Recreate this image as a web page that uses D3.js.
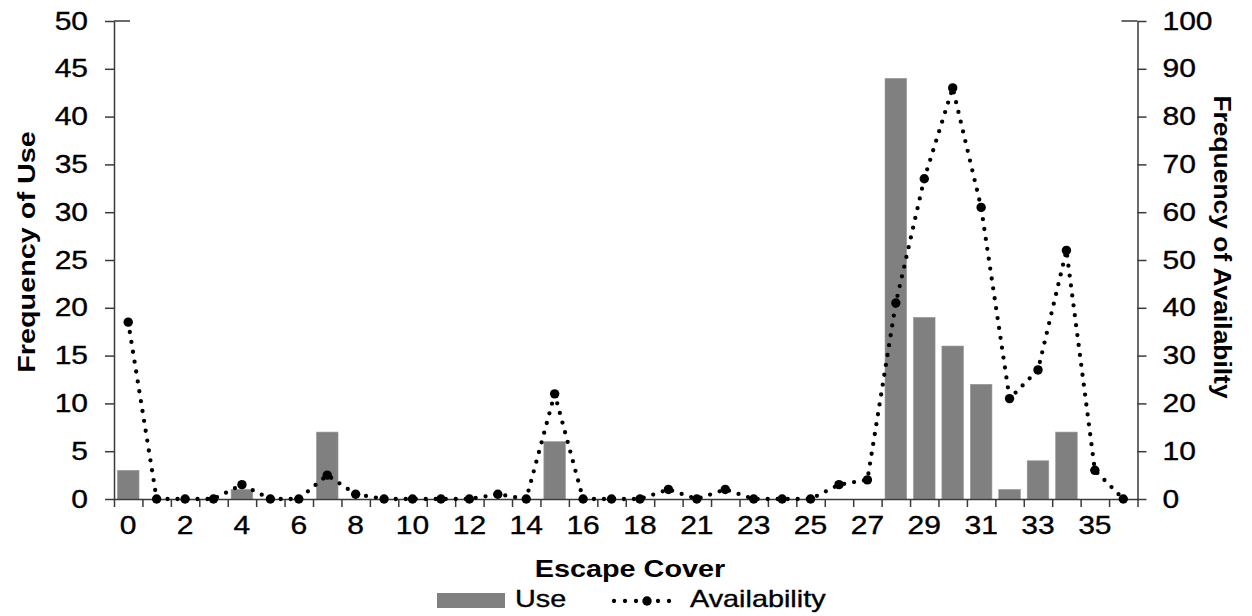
<!DOCTYPE html>
<html>
<head>
<meta charset="utf-8">
<script src="https://cdn.jsdelivr.net/npm/d3@7"></script>
<style>
  html, body { margin: 0; padding: 0; background: #fff; }
  svg { display: block; font-family: "Liberation Sans", Arial, sans-serif; }
</style>
</head>
<body>
<svg id="chart" width="1252" height="616"></svg>
<script>
// ---------- data ----------
const categories = ["0","1","2","3","4","5","6","7","8","9","10","11","12","13","14","15","16","17","18",
  "20","21","22","23","24","25","26","27","28","29","30","31","32","33","34","35","36"];
const useValues = [3,0,0,0,1,0,0,7,0,0,0,0,0,0,0,6,0,0,0,
  0,0,0,0,0,0,0,0,44,19,16,12,1,4,7,0,0];
const availabilityValues = [37,0,0,0,3,0,0,5,1,0,0,0,0,1,0,22,0,0,0,
  2,0,2,0,0,0,3,4,41,67,86,61,21,27,52,6,0];
const leftTicks = [0,5,10,15,20,25,30,35,40,45,50];
const rightTicks = [0,10,20,30,40,50,60,70,80,90,100];
const xTitle = "Escape Cover";
const yLeftTitle = "Frequency of Use";
const yRightTitle = "Frequency of Availabilty";
const legendLabels = ["Use", "Availability"];

// ---------- layout ----------
const W = 1252, H = 616;
const L = 114, R = 1137.5, T = 21, B = 499;
const STRETCH = 1.2;
const axisColor = "#3a3a3a";
const barColor = "#808080";

const svg = d3.select("#chart");

function stretch(sel, k) {
  sel.each(function () {
    const w = this.getComputedTextLength();
    this.setAttribute("textLength", w * k);
    this.setAttribute("lengthAdjust", "spacingAndGlyphs");
  });
}
function heavy(sel) {
  sel.attr("stroke", "#000").attr("stroke-width", 0.35);
}

const x = d3.scaleBand().domain(categories).range([L, R]).padding(0);
const xEdge = d3.scaleLinear().domain([0, categories.length]).range([L, R]);
const yL = d3.scaleLinear().domain([0, 50]).range([B, T]);
const yR = d3.scaleLinear().domain([0, 100]).range([B, T]);

// ---------- bars ----------
const bw = x.bandwidth() * 0.76;
svg.append("g").selectAll("rect").data(categories).join("rect")
  .attr("x", (d) => x(d) + (x.bandwidth() - bw) / 2)
  .attr("y", (d, i) => yL(useValues[i]))
  .attr("width", bw)
  .attr("height", (d, i) => yL(0) - yL(useValues[i]))
  .attr("fill", barColor)
  .attr("stroke", "#999")
  .attr("stroke-width", 0.6);

// ---------- axes ----------
const gxEdge = svg.append("g").attr("transform", `translate(0,${B})`)
  .call(d3.axisBottom(xEdge).tickValues(d3.range(0, categories.length + 1)).tickSize(8).tickSizeOuter(0).tickFormat(""));
gxEdge.selectAll("path,line").attr("stroke", axisColor).attr("stroke-width", 1.5);

const gxLab = svg.append("g").attr("transform", `translate(0,${B})`)
  .call(d3.axisBottom(x).tickSize(0).tickPadding(0).tickFormat((d, i) => (i % 2 === 0 ? d : "")));
gxLab.select(".domain").remove();
gxLab.selectAll("text").attr("font-size", 25).attr("fill", "#000")
  .attr("font-family", "Liberation Sans, Arial, sans-serif")
  .attr("y", 35).attr("dy", 0).call(heavy).call(stretch, STRETCH);

const gyL = svg.append("g").attr("transform", `translate(${L},0)`)
  .call(d3.axisLeft(yL).tickValues(leftTicks).tickSize(9).tickSizeOuter(0).tickPadding(17));
gyL.selectAll("path,line").attr("stroke", axisColor).attr("stroke-width", 1.5);
gyL.selectAll("text").attr("font-size", 25).attr("fill", "#000")
  .attr("font-family", "Liberation Sans, Arial, sans-serif").call(heavy).call(stretch, STRETCH);

const gyR = svg.append("g").attr("transform", `translate(${R},0)`)
  .call(d3.axisRight(yR).tickValues(rightTicks).tickSize(9).tickSizeOuter(0).tickPadding(16));
gyR.selectAll("path,line").attr("stroke", axisColor).attr("stroke-width", 1.5);
gyR.selectAll("text").attr("font-size", 25).attr("fill", "#000")
  .attr("font-family", "Liberation Sans, Arial, sans-serif").call(heavy).call(stretch, STRETCH);

// small inner stubs at the top of both value axes
svg.append("line").attr("x1", L).attr("x2", L + 16).attr("y1", yL(50)).attr("y2", yL(50))
  .attr("stroke", axisColor).attr("stroke-width", 1.5);
svg.append("line").attr("x1", R - 16).attr("x2", R).attr("y1", yR(100)).attr("y2", yR(100))
  .attr("stroke", axisColor).attr("stroke-width", 1.5);

// ---------- availability line ----------
const line = d3.line()
  .x((d, i) => x(categories[i]) + x.bandwidth() / 2)
  .y((d) => yR(d));
svg.append("path").datum(availabilityValues)
  .attr("d", line).attr("fill", "none").attr("stroke", "#000")
  .attr("stroke-width", 4.3).attr("stroke-linecap", "round")
  .attr("stroke-dasharray", "0 10");
svg.append("g").selectAll("circle").data(availabilityValues).join("circle")
  .attr("cx", (d, i) => x(categories[i]) + x.bandwidth() / 2)
  .attr("cy", (d) => yR(d))
  .attr("r", 4.7).attr("fill", "#000");

// ---------- titles ----------
svg.append("text").text(xTitle)
  .attr("x", 630).attr("y", 577).attr("text-anchor", "middle")
  .attr("font-size", 24).attr("font-weight", "bold").call(stretch, STRETCH);

svg.append("text").text(yLeftTitle)
  .attr("transform", "translate(35,252) rotate(-90)").attr("text-anchor", "middle")
  .attr("font-size", 24).attr("font-weight", "bold").call(stretch, STRETCH);

svg.append("text").text(yRightTitle)
  .attr("transform", "translate(1214,247) rotate(90)").attr("text-anchor", "middle")
  .attr("font-size", 24).attr("font-weight", "bold").call(stretch, 1.1);

// ---------- legend ----------
const lg = svg.append("g");
lg.append("rect").attr("x", 437).attr("y", 593).attr("width", 68).attr("height", 15).attr("fill", barColor);
lg.append("text").text(legendLabels[0]).attr("x", 515).attr("y", 607)
  .attr("font-size", 24).call(heavy).call(stretch, STRETCH);
lg.append("line").attr("x1", 614).attr("x2", 680).attr("y1", 601).attr("y2", 601)
  .attr("stroke", "#000").attr("stroke-width", 4.3).attr("stroke-linecap", "round")
  .attr("stroke-dasharray", "0 11");
lg.append("circle").attr("cx", 647).attr("cy", 601).attr("r", 4.7).attr("fill", "#000");
lg.append("text").text(legendLabels[1]).attr("x", 690).attr("y", 607)
  .attr("font-size", 24).call(heavy).call(stretch, STRETCH);
</script>
</body>
</html>
